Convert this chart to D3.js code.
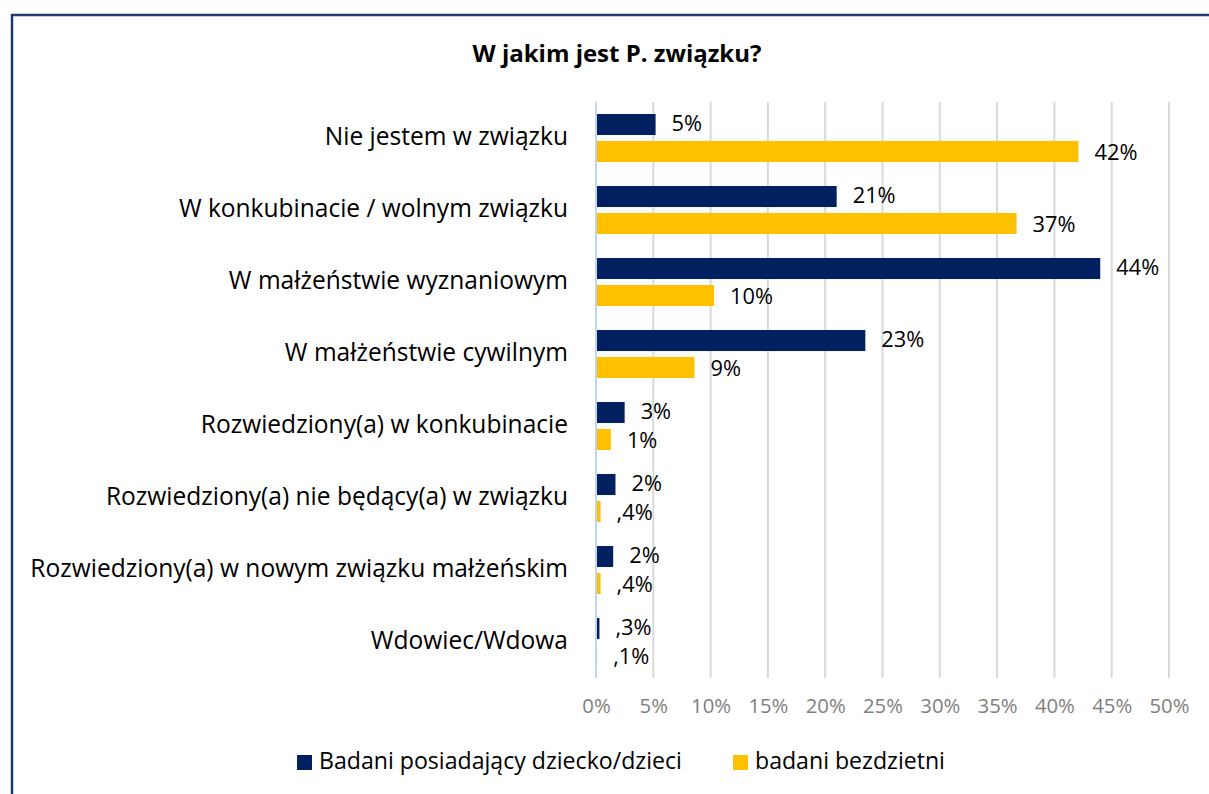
<!DOCTYPE html>
<html><head><meta charset="utf-8">
<script src="https://cdn.jsdelivr.net/npm/d3@7"></script>
<style>body{margin:0;background:#fff}svg{display:block}</style>
</head><body>
<script>
const categories = ["Nie jestem w związku","W konkubinacie / wolnym związku","W małżeństwie wyznaniowym","W małżeństwie cywilnym","Rozwiedziony(a) w konkubinacie","Rozwiedziony(a) nie będący(a) w związku","Rozwiedziony(a) w nowym związku małżeńskim","Wdowiec/Wdowa"];
const seriesNames = ["Badani posiadający dziecko/dzieci","badani bezdzietni"];
const withChildren = [5.2, 21.0, 44.0, 23.5, 2.5, 1.7, 1.5, 0.3];
const childless = [42.1, 36.7, 10.3, 8.6, 1.3, 0.4, 0.4, 0.1];
const withChildrenLabels = ["5%","21%","44%","23%","3%","2%","2%",",3%"];
const childlessLabels = ["42%","37%","10%","9%","1%",",4%",",4%",",1%"];
const ticks = [0,5,10,15,20,25,30,35,40,45,50];
const colors = ["#002060","#FFC000"];
const title = "W jakim jest P. związku?";

const W=1209,H=794;
const svg=d3.select("body").append("svg").attr("width",W).attr("height",H);
const font="'Open Sans', 'Liberation Sans', sans-serif";

// fit font size so a sample string reaches a target width
function fit(str,target,weight){
  const t=svg.append("text").attr("font-family",font).attr("font-size",20).attr("font-weight",weight||"normal").text(str);
  const w=t.node().getComputedTextLength(); t.remove();
  return 20*target/w;
}
const fsCat=fit("Rozwiedziony(a) w nowym związku małżeńskim",538);
const fsVal=fit("42%",43);
const fsTick=fit("50%",40);
const fsLeg=fit("Badani posiadający dziecko/dzieci",363);
const fsTitle=fit(title,289,"bold");

svg.append("rect").attr("x",12).attr("y",15).attr("width",W+20).attr("height",H+20)
  .attr("fill","none").attr("stroke","#1f3a73").attr("stroke-width",2.5);

const x=d3.scaleLinear().domain([0,50]).range([596,1169]);
const y=d3.scaleBand().domain(categories).range([102,678]);
const sub=d3.scaleBand().domain([0,1]).range([12,60]).paddingInner(0.22);

svg.append("text").attr("x",617).attr("y",56).attr("text-anchor","middle").attr("dominant-baseline","middle")
  .attr("font-family",font).attr("font-weight","bold").attr("font-size",fsTitle).attr("fill","#000").text(title);

const g=svg.append("g");
g.selectAll("line.grid").data(ticks.slice(1)).join("line")
  .attr("x1",d=>x(d)).attr("x2",d=>x(d)).attr("y1",102).attr("y2",678)
  .attr("stroke","#d9d9d9").attr("stroke-width",2);

const data=[withChildren,childless];
const labels=[withChildrenLabels,childlessLabels];
const labelShift=[0.5,3];
data.forEach((vals,si)=>{
  g.selectAll(null).data(vals).join("rect")
    .attr("x",x(0)).attr("y",(d,i)=>y(categories[i])+sub(si))
    .attr("width",d=>x(d)-x(0)).attr("height",sub.bandwidth())
    .attr("fill",colors[si]);
  g.selectAll(null).data(vals).join("text")
    .attr("x",d=>x(d)+16).attr("y",(d,i)=>y(categories[i])+sub(si)+sub.bandwidth()/2+labelShift[si])
    .attr("dominant-baseline","middle").attr("font-family",font).attr("font-size",fsVal).attr("fill","#000")
    .text((d,i)=>labels[si][i]);
});

g.append("line").attr("x1",x(0)).attr("x2",x(0)).attr("y1",102).attr("y2",678)
  .attr("stroke","#bdd7ee").attr("stroke-width",2);

const xa=d3.axisBottom(x).tickValues(ticks).tickFormat(d=>d+"%").tickSize(0).tickPadding(0);
const ax=svg.append("g").attr("transform","translate(0,708)").call(xa);
ax.select(".domain").remove();
ax.selectAll("text").attr("font-family",font).attr("font-size",fsTick).attr("fill","#7f7f7f").attr("dy",null).attr("y",0).attr("dominant-baseline","middle");

const ya=d3.axisLeft(y).tickSize(0).tickPadding(0);
const ay=svg.append("g").attr("transform","translate(568,0)").call(ya);
ay.select(".domain").remove();
ay.selectAll("text").attr("font-family",font).attr("font-size",fsCat).attr("fill","#000").attr("dy",null).attr("dominant-baseline","middle");

const leg=svg.append("g");
const legX=[297,733];
seriesNames.forEach((n,i)=>{
  leg.append("rect").attr("x",legX[i]).attr("y",755).attr("width",15).attr("height",15).attr("fill",colors[i]);
  leg.append("text").attr("x",legX[i]+22).attr("y",763).attr("dominant-baseline","middle")
    .attr("font-family",font).attr("font-size",fsLeg).attr("fill","#000").text(n);
});
</script>
</body></html>
